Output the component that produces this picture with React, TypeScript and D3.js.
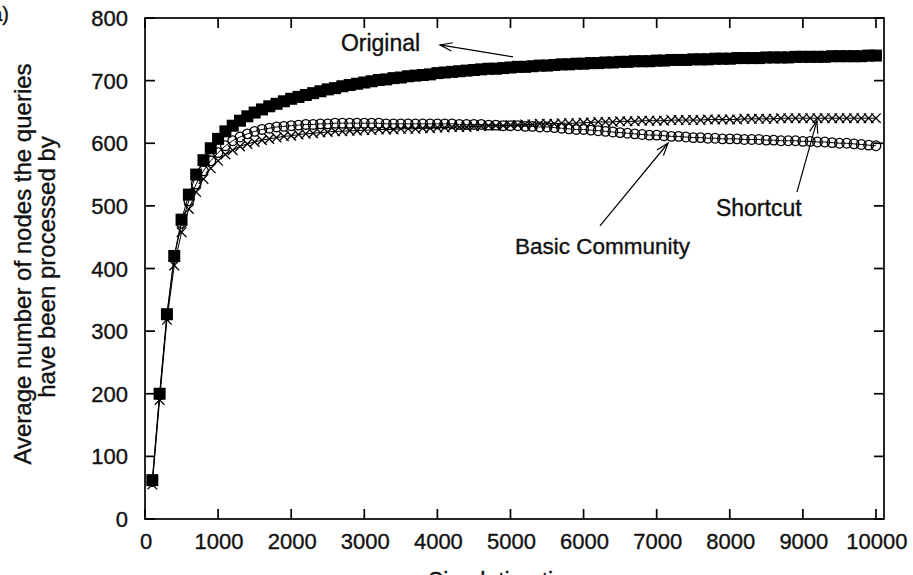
import React from "react";
import * as d3 from "d3";

const times = [100,200,300,400,500,600,700,800,900,1000,1100,1200,1300,1400,1500,1600,1700,1800,1900,2000,2100,2200,2300,2400,2500,2600,2700,2800,2900,3000,3100,3200,3300,3400,3500,3600,3700,3800,3900,4000,4100,4200,4300,4400,4500,4600,4700,4800,4900,5000,5100,5200,5300,5400,5500,5600,5700,5800,5900,6000,6100,6200,6300,6400,6500,6600,6700,6800,6900,7000,7100,7200,7300,7400,7500,7600,7700,7800,7900,8000,8100,8200,8300,8400,8500,8600,8700,8800,8900,9000,9100,9200,9300,9400,9500,9600,9700,9800,9900,10000];

const original = [62,200,327,420,478,518,550,573,592,607,619,628,636,643,649,654,659,663,667,671,674,677,680,683,686,688,691,693,695,697,699,701,702,704,705,707,708,709,710,712,713,714,715,716,717,718,719,719,720,721,722,722,723,724,724,725,726,726,727,727,728,728,729,729,730,730,731,731,731,732,732,733,733,733,734,734,734,735,735,735,736,736,736,736,737,737,737,737,738,738,738,738,738,739,739,739,739,739,740,740];

const basicCommunity = [60,198,325,418,472,508,535,556,572,585,596,604,610,615,619,622,624,626,627,628,629,630,630,631,631,632,632,632,632,632,632,632,631,631,631,631,631,631,631,631,631,631,630,630,630,630,629,629,628,628,628,627,627,626,626,625,624,623,622,622,621,620,619,618,617,616,615,614,613,613,612,611,611,610,609,609,608,608,607,607,607,606,606,606,605,605,604,604,604,603,603,602,602,601,600,600,599,598,597,596];

const shortcut = [55,190,318,405,458,495,522,543,560,572,582,589,595,599,602,605,607,609,611,612,614,615,616,617,618,619,619,620,620,621,621,622,622,622,623,623,623,624,624,625,625,626,626,626,627,627,628,628,628,629,629,630,630,631,631,631,632,632,632,633,633,634,634,634,635,635,635,636,636,636,636,637,637,637,637,637,638,638,638,638,638,639,639,639,639,639,640,640,640,640,640,640,640,640,640,640,640,640,640,640];

const xTicks = [0,1000,2000,3000,4000,5000,6000,7000,8000,9000,10000];
const yTicks = [0,100,200,300,400,500,600,700,800];

const W = 913, H = 575;
const L = 145, R = 884, T = 18, B = 519;
const FONT = "'Liberation Sans', Arial, Helvetica, sans-serif";
const INK = "#111";

export default function App() {
  const x = d3.scaleLinear().domain([0, 10110]).range([L, R]);
  const y = d3.scaleLinear().domain([0, 800]).range([B, T]);
  const line = (vals: number[]) =>
    d3.line<number>().x((_, i) => x(times[i])).y((d) => y(d))(vals) || "";

  const arrow = (x1: number, y1: number, x2: number, y2: number, key: string) => {
    const px1 = x(x1), py1 = y(y1), px2 = x(x2), py2 = y(y2);
    const ang = Math.atan2(py2 - py1, px2 - px1);
    const len = 13, spread = 0.33;
    const a1x = px2 - len * Math.cos(ang - spread), a1y = py2 - len * Math.sin(ang - spread);
    const a2x = px2 - len * Math.cos(ang + spread), a2y = py2 - len * Math.sin(ang + spread);
    return (
      <g key={key} stroke="#000" strokeWidth={1.2} fill="none">
        <line x1={px1} y1={py1} x2={px2} y2={py2} />
        <polyline points={`${a1x},${a1y} ${px2},${py2} ${a2x},${a2y}`} />
      </g>
    );
  };

  const txt = { fill: INK, stroke: INK, strokeWidth: 0.35 };

  return (
    <svg width={W} height={H} style={{ position: "absolute", left: 0, top: 0, background: "#fff" }} fontFamily={FONT}>
      <rect x={0} y={0} width={W} height={H} fill="#fff" />
      {/* frame */}
      <rect x={L} y={T} width={R - L} height={B - T} fill="none" stroke="#000" strokeWidth={1.7} />
      {/* y ticks */}
      {yTicks.map((v) => (
        <g key={"y" + v}>
          <line x1={L} x2={L + 10} y1={y(v)} y2={y(v)} stroke="#000" strokeWidth={1.7} />
          <line x1={R} x2={R - 10} y1={y(v)} y2={y(v)} stroke="#000" strokeWidth={1.7} />
          <text x={128} y={y(v) + 8} textAnchor="end" fontSize={22} {...txt}>{v}</text>
        </g>
      ))}
      {/* x ticks */}
      {xTicks.map((v) => (
        <g key={"x" + v}>
          <line x1={x(v)} x2={x(v)} y1={B} y2={B - 10} stroke="#000" strokeWidth={1.7} />
          <line x1={x(v)} x2={x(v)} y1={T} y2={T + 10} stroke="#000" strokeWidth={1.7} />
          <text x={x(v) + 1} y={549} textAnchor="middle" fontSize={22} {...txt}>{v}</text>
        </g>
      ))}
      {/* axis labels */}
      <text transform="translate(31,264) rotate(-90)" textAnchor="middle" fontSize={24} {...txt}>
        Average number of nodes the queries
      </text>
      <text transform="translate(55,267) rotate(-90)" textAnchor="middle" fontSize={24} {...txt}>
        have been processed by
      </text>
      <text x={(L + R) / 2 - 8} y={589} textAnchor="middle" fontSize={23} {...txt}>Simulation time</text>
      <text x={9} y={21} textAnchor="end" fontSize={20} {...txt}>(a)</text>

      {/* series lines */}
      <path d={line(shortcut)} fill="none" stroke="#000" strokeWidth={1} />
      <path d={line(basicCommunity)} fill="none" stroke="#000" strokeWidth={1} />
      <path d={line(original)} fill="none" stroke="#000" strokeWidth={1} />

      {/* shortcut: x markers */}
      <g stroke="#000" strokeWidth={1.3}>
        {shortcut.map((v, i) => {
          const cx = x(times[i]), cy = y(v), s = 4.8;
          return (
            <g key={"s" + i}>
              <line x1={cx - s} y1={cy - s} x2={cx + s} y2={cy + s} />
              <line x1={cx - s} y1={cy + s} x2={cx + s} y2={cy - s} />
            </g>
          );
        })}
      </g>
      {/* basic community: open circles */}
      <g stroke="#000" strokeWidth={1.3} fill="none">
        {basicCommunity.map((v, i) => (
          <circle key={"c" + i} cx={x(times[i])} cy={y(v)} r={4.8} />
        ))}
      </g>
      {/* original: filled squares */}
      <g fill="#000">
        {original.map((v, i) => (
          <rect key={"o" + i} x={x(times[i]) - 6} y={y(v) - 6} width={12} height={12} />
        ))}
      </g>

      {/* annotations */}
      <text x={x(2680)} y={y(748)} fontSize={23} {...txt}>Original</text>
      {arrow(5034, 738, 4036, 757, "a1")}
      <text x={x(5062)} y={y(423)} fontSize={22.5} {...txt}>Basic Community</text>
      {arrow(6224, 468, 7155, 600, "a2")}
      <text x={x(7811)} y={y(484)} fontSize={23} {...txt}>Shortcut</text>
      {arrow(8919, 522, 9193, 636, "a3")}
    </svg>
  );
}
